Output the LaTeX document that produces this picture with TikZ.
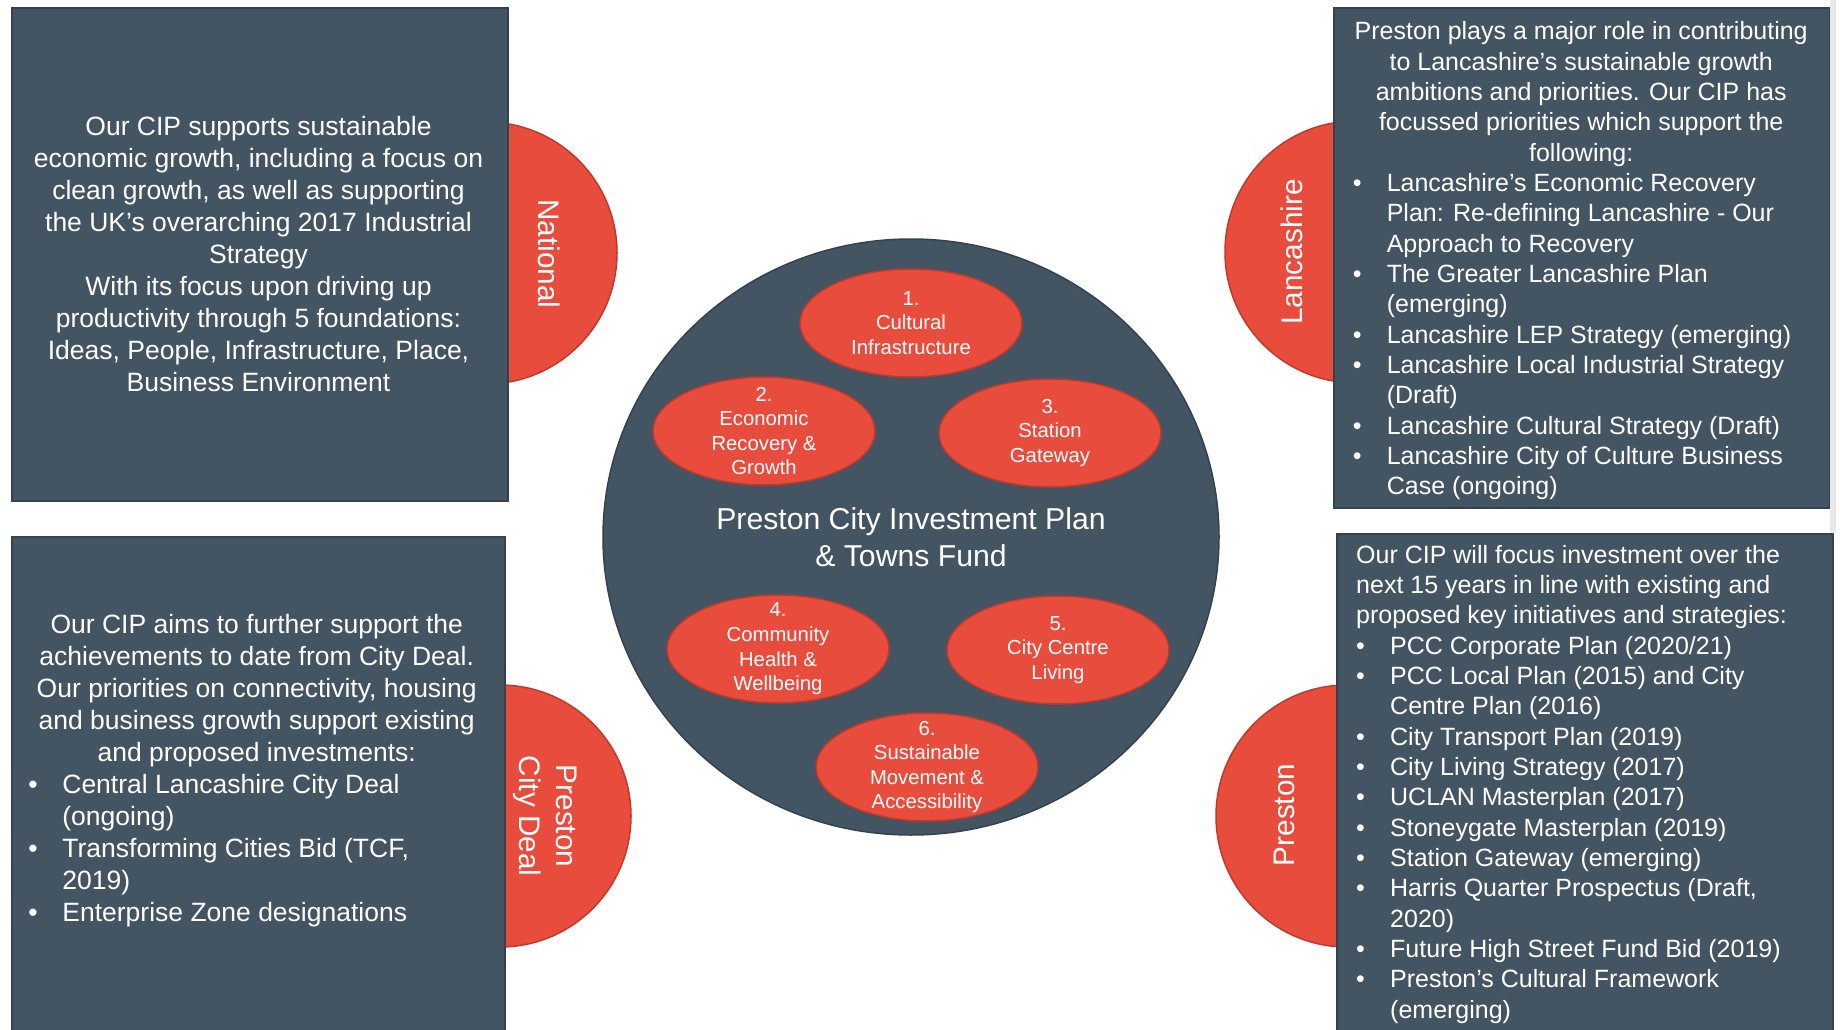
\documentclass[tikz,border=0pt]{standalone}
\usepackage{fontspec}
\setmainfont{Liberation Sans}
\usetikzlibrary{positioning, shapes.geometric}

\definecolor{slate}{HTML}{435462}
\definecolor{slatedark}{HTML}{34424E}
\definecolor{cipred}{HTML}{E84C3D}
\definecolor{cipreddark}{HTML}{C0392B}

% bullet lists inside the panels
\newlength{\bulw}
\setlength{\bulw}{34pt}
\newcommand{\hd}[2]{\makebox[#1pt][c]{#2}}
\newcommand{\itm}[1]{\makebox[\bulw][l]{\textbullet}#1}
\newcommand{\cnt}[1]{\hspace*{\bulw}#1}

\tikzset{
  panel/.style={draw=slatedark, fill=slate, line width=2pt, inner sep=0pt},
  tag/.style={circle, draw=cipreddark, fill=cipred, line width=1.5pt,
    minimum size=262pt, inner sep=0pt},
  taglabel/.style={text=white, font=\fontsize{29.7pt}{37pt}\selectfont, inner sep=0pt},
  bigtext/.style={text=white, font=\fontsize{26.5pt}{32pt}\selectfont, inner sep=0pt},
  smalltext/.style={text=white, font=\fontsize{25pt}{30.33pt}\selectfont,
    inner sep=0pt, align=left},
  hub/.style={ellipse, draw=slatedark, fill=slate, line width=1.5pt,
    minimum width=616pt, minimum height=596pt, text=white,
    font=\fontsize{30.2pt}{37pt}\selectfont, align=center},
  prio/.style={ellipse, draw=cipreddark, fill=cipred, line width=1.5pt,
    minimum width=222pt, minimum height=108pt},
  priotext/.style={text=white, font=\fontsize{20.3pt}{24.6pt}\selectfont,
    align=center, inner sep=0pt}
}

\begin{document}
\begin{tikzpicture}[x=1pt, y=-1pt]
\useasboundingbox (0,0) rectangle (1840,1030);

% red tabs, half hidden behind the panels
\node[tag] (nat) at (486,253) {};
\node[tag] (lan) at (1356,252) {};
\node[tag] (pcd) at (500,816) {};
\node[tag] (pre) at (1347,816) {};

% panels
\node[panel, minimum width=496pt, minimum height=493pt, anchor=north west] (natbox) at (11,7) {};
\node[panel, minimum width=496pt, minimum height=500pt, anchor=north west] (lanbox) at (1333,7) {};
\node[panel, minimum width=493pt, minimum height=500pt, anchor=north west] (pcdbox) at (11,536) {};
\node[panel, minimum width=496pt, minimum height=503pt, anchor=north west] (prebox) at (1336,533) {};
\fill[gray!18] (1830,0) rectangle (1836,533);

% tab labels
\node[taglabel, rotate=-90] (natlab) at (549,254) {National};
\node[taglabel, rotate=90] (lanlab) at (1292,252) {Lancashire};
\node[taglabel, rotate=-90, align=center] (pcdlab) at (545,816) {Preston\\City Deal};
\node[taglabel, rotate=90] (prelab) at (1284,815) {Preston};

% panel texts
\node[bigtext, align=center, anchor=north] (nattxt) at (258.5,116) {%
  Our CIP supports sustainable\\
  economic growth, including a focus on\\
  clean growth, as well as supporting\\
  the UK’s overarching 2017 Industrial\\
  Strategy\\
  With its focus upon driving up\\
  productivity through 5 foundations:\\
  Ideas, People, Infrastructure, Place,\\
  Business Environment};

\node[smalltext, anchor=north west] (lantxt) at (1352.6,21.5) {%
  \hd{456.8}{Preston plays a major role in contributing}\\
  \hd{456.8}{to Lancashire’s sustainable growth}\\
  \hd{456.8}{ambitions and priorities. Our CIP has}\\
  \hd{456.8}{focussed priorities which support the}\\
  \hd{456.8}{following:}\\
  \itm{Lancashire’s Economic Recovery}\\
  \cnt{Plan: Re-defining Lancashire - Our}\\
  \cnt{Approach to Recovery}\\
  \itm{The Greater Lancashire Plan}\\
  \cnt{(emerging)}\\
  \itm{Lancashire LEP Strategy (emerging)}\\
  \itm{Lancashire Local Industrial Strategy}\\
  \cnt{(Draft)}\\
  \itm{Lancashire Cultural Strategy (Draft)}\\
  \itm{Lancashire City of Culture Business}\\
  \cnt{Case (ongoing)}};

\node[bigtext, align=left, anchor=north west] (pcdtxt) at (28.2,614.4) {%
  \hd{456.6}{Our CIP aims to further support the}\\
  \hd{456.6}{achievements to date from City Deal.}\\
  \hd{456.6}{Our priorities on connectivity, housing}\\
  \hd{456.6}{and business growth support existing}\\
  \hd{456.6}{and proposed investments:}\\
  \itm{Central Lancashire City Deal}\\
  \cnt{(ongoing)}\\
  \itm{Transforming Cities Bid (TCF,}\\
  \cnt{2019)}\\
  \itm{Enterprise Zone designations}};

\node[smalltext, anchor=north west] (pretxt) at (1356,545) {%
  Our CIP will focus investment over the\\
  next 15 years in line with existing and\\
  proposed key initiatives and strategies:\\
  \itm{PCC Corporate Plan (2020/21)}\\
  \itm{PCC Local Plan (2015) and City}\\
  \cnt{Centre Plan (2016)}\\
  \itm{City Transport Plan (2019)}\\
  \itm{City Living Strategy (2017)}\\
  \itm{UCLAN Masterplan (2017)}\\
  \itm{Stoneygate Masterplan (2019)}\\
  \itm{Station Gateway (emerging)}\\
  \itm{Harris Quarter Prospectus (Draft,}\\
  \cnt{2020)}\\
  \itm{Future High Street Fund Bid (2019)}\\
  \itm{Preston’s Cultural Framework}\\
  \cnt{(emerging)}};

% the plan and its six priorities
\node[hub] (hub) at (911,537) {Preston City Investment Plan\\\& Towns Fund};
\foreach \nm/\pos/\txt in {
    p1/{911,323}/{1.\\Cultural\\Infrastructure},
    p2/{764,431}/{2.\\Economic\\Recovery \&\\Growth},
    p3/{1050,433}/{3.\\Station\\Gateway},
    p4/{778,649}/{4.\\Community\\Health \&\\Wellbeing},
    p5/{1058,650}/{5.\\City Centre\\Living},
    p6/{927,767}/{6.\\Sustainable\\Movement \&\\Accessibility}}
{
  \node[prio] (\nm) at (\pos) {};
  \node[priotext] (t\nm) at (\nm) {\txt};
}
\end{tikzpicture}
\end{document}
